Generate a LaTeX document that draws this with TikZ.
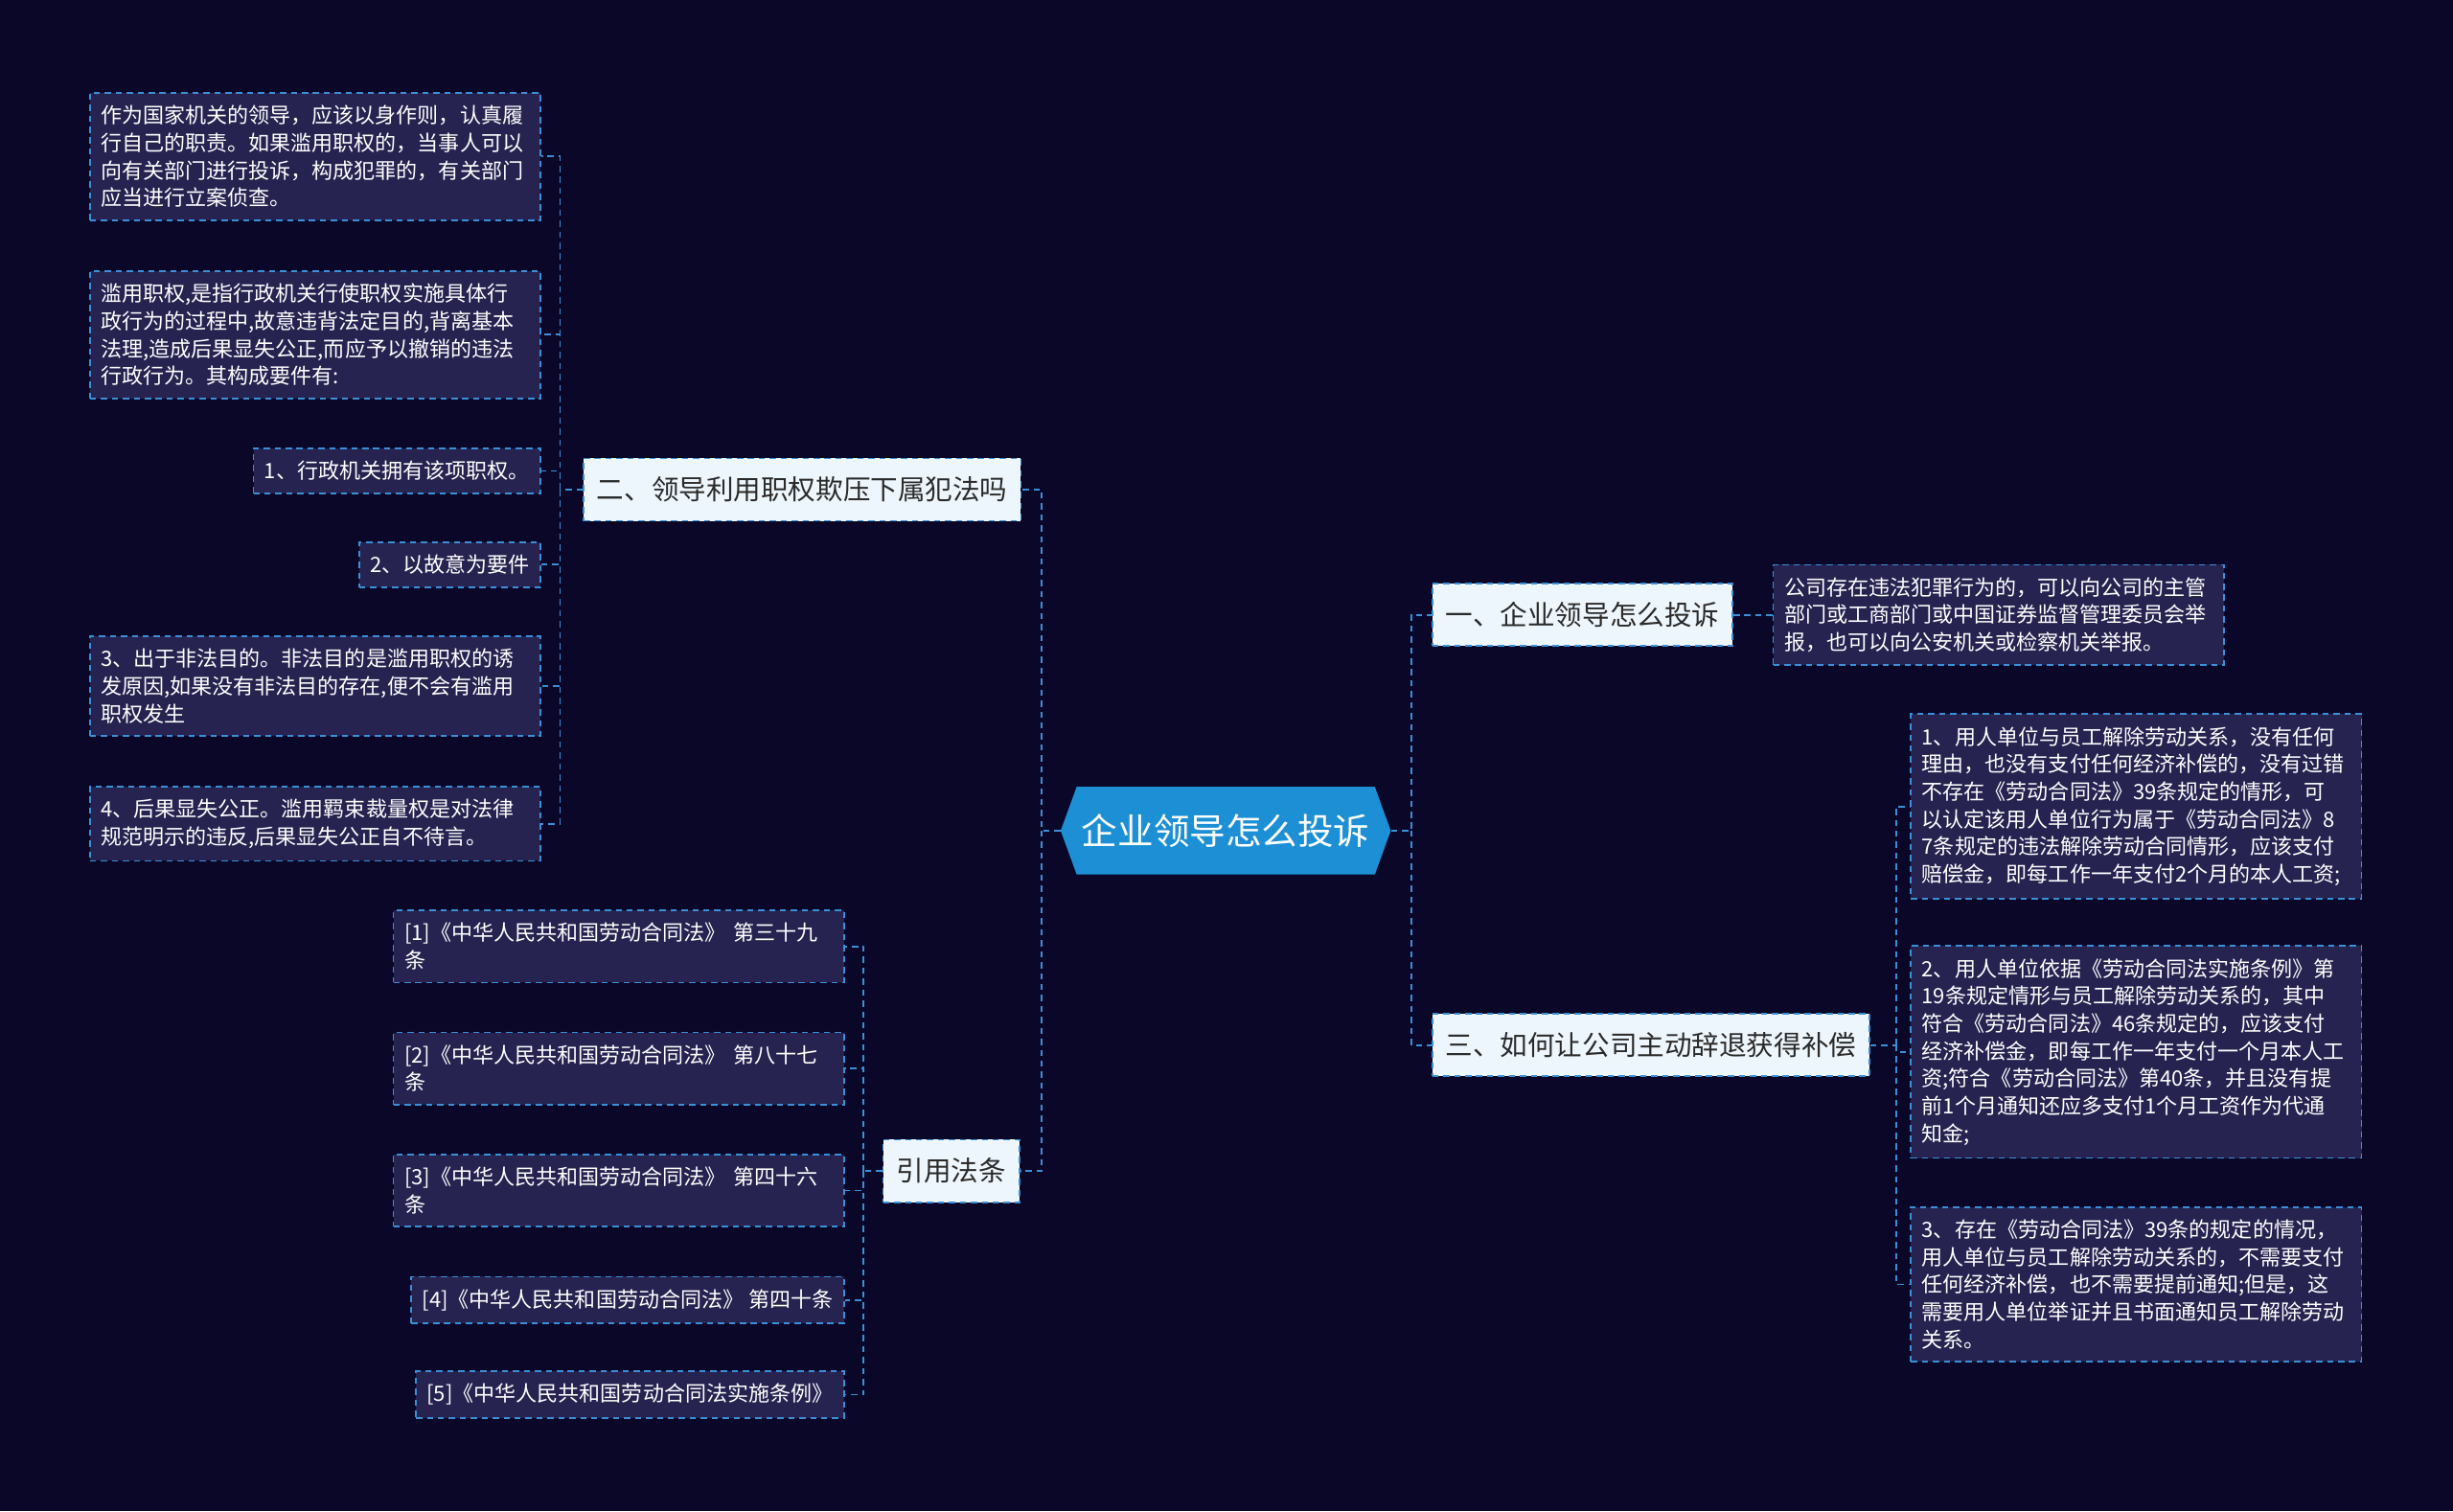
\documentclass[tikz,border=0pt]{standalone}
\usepackage{fontspec}
\setmainfont{Noto Sans CJK SC}
\usepackage{tikz}
\usetikzlibrary{shapes.symbols}
\definecolor{fondo}{HTML}{0A0729}
\definecolor{azul}{HTML}{3A90D6}
\definecolor{azulc}{HTML}{1C8FD5}
\definecolor{hojaf}{HTML}{262350}
\definecolor{claro}{HTML}{EEF6FD}
\definecolor{texto}{HTML}{2A2A2A}
\tikzset{
  every picture/.style={x=1pt, y=-1pt},
  centro/.style={signal, signal to=west and east, signal pointer angle=140, fill=azulc, text=white,
              minimum width=211pt, minimum height=56pt, inner xsep=2pt, font=\fontsize{23}{26}\selectfont},
  rama/.style={draw=azul, fill=claro, text=texto, line width=1pt, dash pattern=on 4pt off 3pt,
              minimum height=40pt, inner xsep=8.5pt, font=\fontsize{17.5}{20}\selectfont},
  hoja/.style={draw=azul, fill=hojaf, text=white, line width=1pt, dash pattern=on 4pt off 3pt,
              inner xsep=7pt, inner ysep=8pt, align=left, font=\fontsize{13.5}{17.6}\selectfont},
  hojaw/.style={hoja, text width=274pt},
  enlace/.style={draw=azul, line width=1.1pt, dash pattern=on 4pt off 3pt},
}
\begin{document}
\begin{tikzpicture}
  \fill[fondo] (0,0) rectangle (1568,966);
  \useasboundingbox (0,0) rectangle (1568,966);
  \node[centro] (raiz) at (783.5,531) {企业领导怎么投诉};
  % ramas principales
  \node[rama, anchor=east] (l2) at (653,313) {二、领导利用职权欺压下属犯法吗};
  \node[rama, anchor=east] (cita) at (652,748.5) {引用法条};
  \node[rama, anchor=west] (r1) at (915,393) {一、企业领导怎么投诉};
  \node[rama, anchor=west] (r3) at (915,668) {三、如何让公司主动辞退获得补偿};
  % hojas de la izquierda
  \node[hojaw, anchor=east] (la1) at (346,100) {作为国家机关的领导，应该以身作则，认真履\\行自己的职责。如果滥用职权的，当事人可以\\向有关部门进行投诉，构成犯罪的，有关部门\\应当进行立案侦查。};
  \node[hojaw, anchor=east] (la2) at (346,214) {滥用职权,是指行政机关行使职权实施具体行\\政行为的过程中,故意违背法定目的,背离基本\\法理,造成后果显失公正,而应予以撤销的违法\\行政行为。其构成要件有:};
  \node[hoja, anchor=east] (la3) at (346,301) {1、行政机关拥有该项职权。};
  \node[hoja, anchor=east] (la4) at (346,361) {2、以故意为要件};
  \node[hojaw, anchor=east] (la5) at (346,438.5) {3、出于非法目的。非法目的是滥用职权的诱\\发原因,如果没有非法目的存在,便不会有滥用\\职权发生};
  \node[hojaw, anchor=east] (la6) at (346,526.5) {4、后果显失公正。滥用羁束裁量权是对法律\\规范明示的违反,后果显失公正自不待言。};
  % citas
  \foreach \i/\y/\t in {1/605/三十九, 2/683/八十七, 3/761/四十六}
    \node[hojaw, anchor=east] (c\i) at (540,\y) {[\i]《中华人民共和国劳动合同法》 第\t\\条};
  \node[hoja, anchor=east] (c4) at (540,831) {[4]《中华人民共和国劳动合同法》 第四十条};
  \node[hoja, anchor=east] (c5) at (540,891.5) {[5]《中华人民共和国劳动合同法实施条例》};
  % hojas de la derecha
  \node[hojaw, anchor=west] (r1a) at (1133,393) {公司存在违法犯罪行为的，可以向公司的主管\\部门或工商部门或中国证券监督管理委员会举\\报，也可以向公安机关或检察机关举报。};
  \node[hojaw, anchor=west] (r3a) at (1221,515.5) {1、用人单位与员工解除劳动关系，没有任何\\理由，也没有支付任何经济补偿的，没有过错\\不存在《劳动合同法》39条规定的情形，可\\以认定该用人单位行为属于《劳动合同法》8\\7条规定的违法解除劳动合同情形，应该支付\\赔偿金，即每工作一年支付2个月的本人工资;};
  \node[hojaw, anchor=west] (r3b) at (1221,672.5) {2、用人单位依据《劳动合同法实施条例》第\\19条规定情形与员工解除劳动关系的，其中\\符合《劳动合同法》46条规定的，应该支付\\经济补偿金，即每工作一年支付一个月本人工\\资;符合《劳动合同法》第40条，并且没有提\\前1个月通知还应多支付1个月工资作为代通\\知金;};
  \node[hojaw, anchor=west] (r3c) at (1221,821) {3、存在《劳动合同法》39条的规定的情况，\\用人单位与员工解除劳动关系的，不需要支付\\任何经济补偿，也不需要提前通知;但是，这\\需要用人单位举证并且书面通知员工解除劳动\\关系。};
  % enlaces
  \coordinate (sL) at (666,531);
  \coordinate (sR) at (902,531);
  \coordinate (sA) at (358,313);
  \coordinate (sC) at (552,748.5);
  \coordinate (sB) at (1212,668);
  \draw[enlace] (raiz.west) -- (sL) |- (l2.east);
  \draw[enlace] (sL) |- (cita.east);
  \draw[enlace] (raiz.east) -- (sR) |- (r1.west);
  \draw[enlace] (sR) |- (r3.west);
  \draw[enlace] (r1.east) -- (r1a.west);
  \draw[enlace] (l2.west) -- (sA);
  \foreach \i in {1,...,6}
    \draw[enlace] (sA) |- (la\i.east);
  \draw[enlace] (cita.west) -- (sC);
  \foreach \i in {1,...,5}
    \draw[enlace] (sC) |- (c\i.east);
  \draw[enlace] (r3.east) -- (sB);
  \foreach \n in {a,b,c}
    \draw[enlace] (sB) |- (r3\n.west);
\end{tikzpicture}
\end{document}
